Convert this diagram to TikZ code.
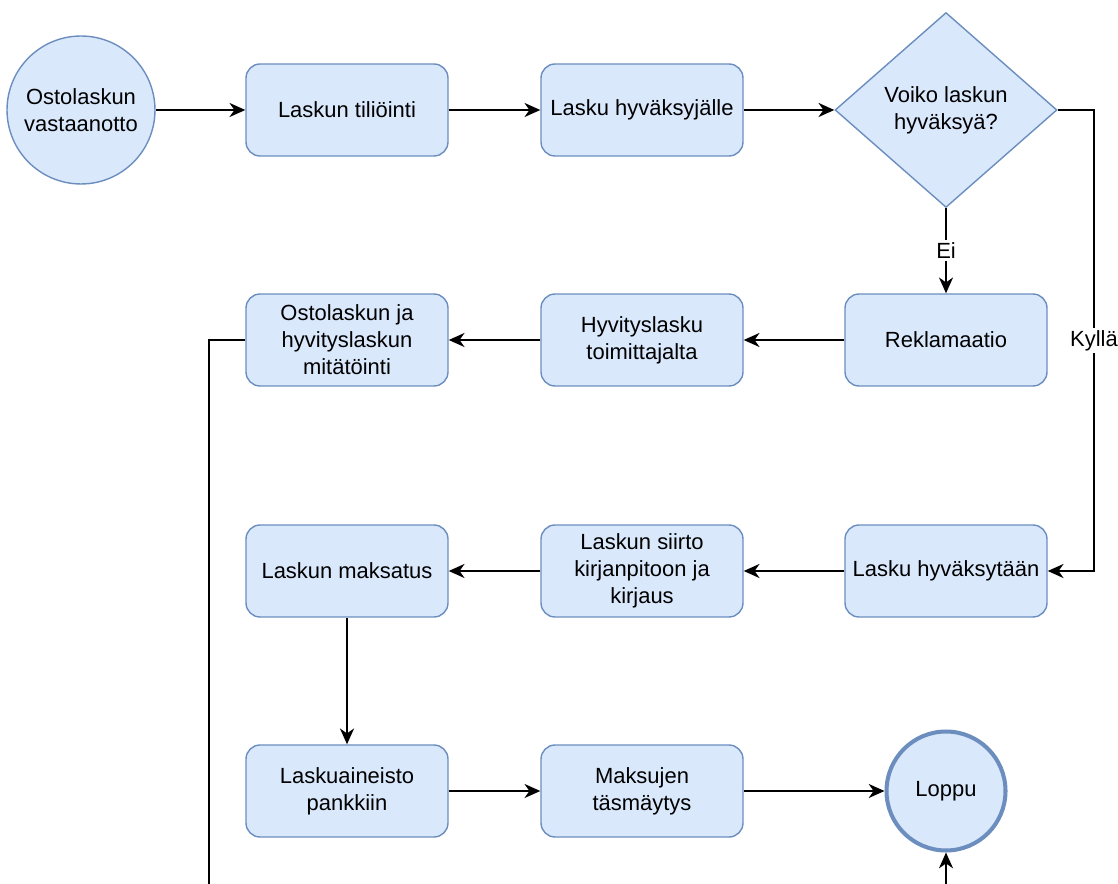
\documentclass[tikz,border=0pt]{standalone}
\usepackage{fontspec}
\setmainfont{Liberation Sans}
\usetikzlibrary{shapes.geometric,arrows.meta}
\definecolor{boxfill}{HTML}{DAE8FC}
\definecolor{boxline}{HTML}{6C8EBF}
\begin{document}
\begin{tikzpicture}[x=0.02cm,y=-0.02cm,
		every node/.style={font=\fontsize{12.5}{15.4}\selectfont,align=center},
		proc/.style={draw=boxline,fill=boxfill,line width=0.8pt,rounded corners=0.28cm,minimum width=4.04cm,minimum height=1.84cm,inner sep=0pt},
		ends/.style={draw=boxline,fill=boxfill,line width=0.8pt,circle,inner sep=0pt},
		ask/.style={draw=boxline,fill=boxfill,line width=0.8pt,diamond,minimum width=4.44cm,minimum height=3.9cm,inner sep=0pt},
		arr/.style={line width=1pt,-{Stealth[length=9pt,width=8pt,inset=2.8pt]}},
		lbl/.style={fill=white,inner sep=1.5pt}]
		\useasboundingbox (0,0) rectangle (1118,884);
		\clip (0,0) rectangle (1118,884);
		\node[ends,minimum size=2.96cm] (S) at (81,110) {Ostolaskun\\vastaanotto};
		\node[proc] (T) at (347,110) {Laskun tiliöinti};
		\node[proc] (H) at (642,110) {Lasku hyväksyjälle};
		\node[ask] (Q) at (946,110) {Voiko laskun\\hyväksyä?};
		\node[proc] (R) at (946,340) {Reklamaatio};
		\node[proc] (V) at (642,340) {Hyvityslasku\\toimittajalta};
		\node[proc] (M) at (347,340) {Ostolaskun ja\\hyvityslaskun\\mitätöinti};
		\node[proc] (K) at (946,571) {Lasku hyväksytään};
		\node[proc] (P) at (642,571) {Laskun siirto\\kirjanpitoon ja\\kirjaus};
		\node[proc] (X) at (347,571) {Laskun maksatus};
		\node[proc] (A) at (347,791) {Laskuaineisto\\pankkiin};
		\node[proc] (B) at (642,791) {Maksujen\\täsmäytys};
		\node[ends,minimum size=2.38cm,line width=2.3pt] (E) at (946,791) {Loppu};
		\coordinate (yes) at (1094,110);
		\coordinate (low) at (209,930);
		\draw[arr] (S) -- (T);
		\draw[arr] (T) -- (H);
		\draw[arr] (H) -- (Q);
		\draw[arr] (Q.south) -- node[lbl]{Ei} (R.north);
		\draw[arr] (Q.east) -- (yes) |- node[lbl,pos=.25]{Kyllä} (K.east);
		\draw[arr] (R) -- (V);
		\draw[arr] (V) -- (M);
		\draw[arr] (K) -- (P);
		\draw[arr] (P) -- (X);
		\draw[arr] (X) -- (A);
		\draw[arr] (A) -- (B);
		\draw[arr] (B) -- (E);
		\draw[arr] (M.west) -| (low) -| (E.south);
	\end{tikzpicture}
\end{document}
